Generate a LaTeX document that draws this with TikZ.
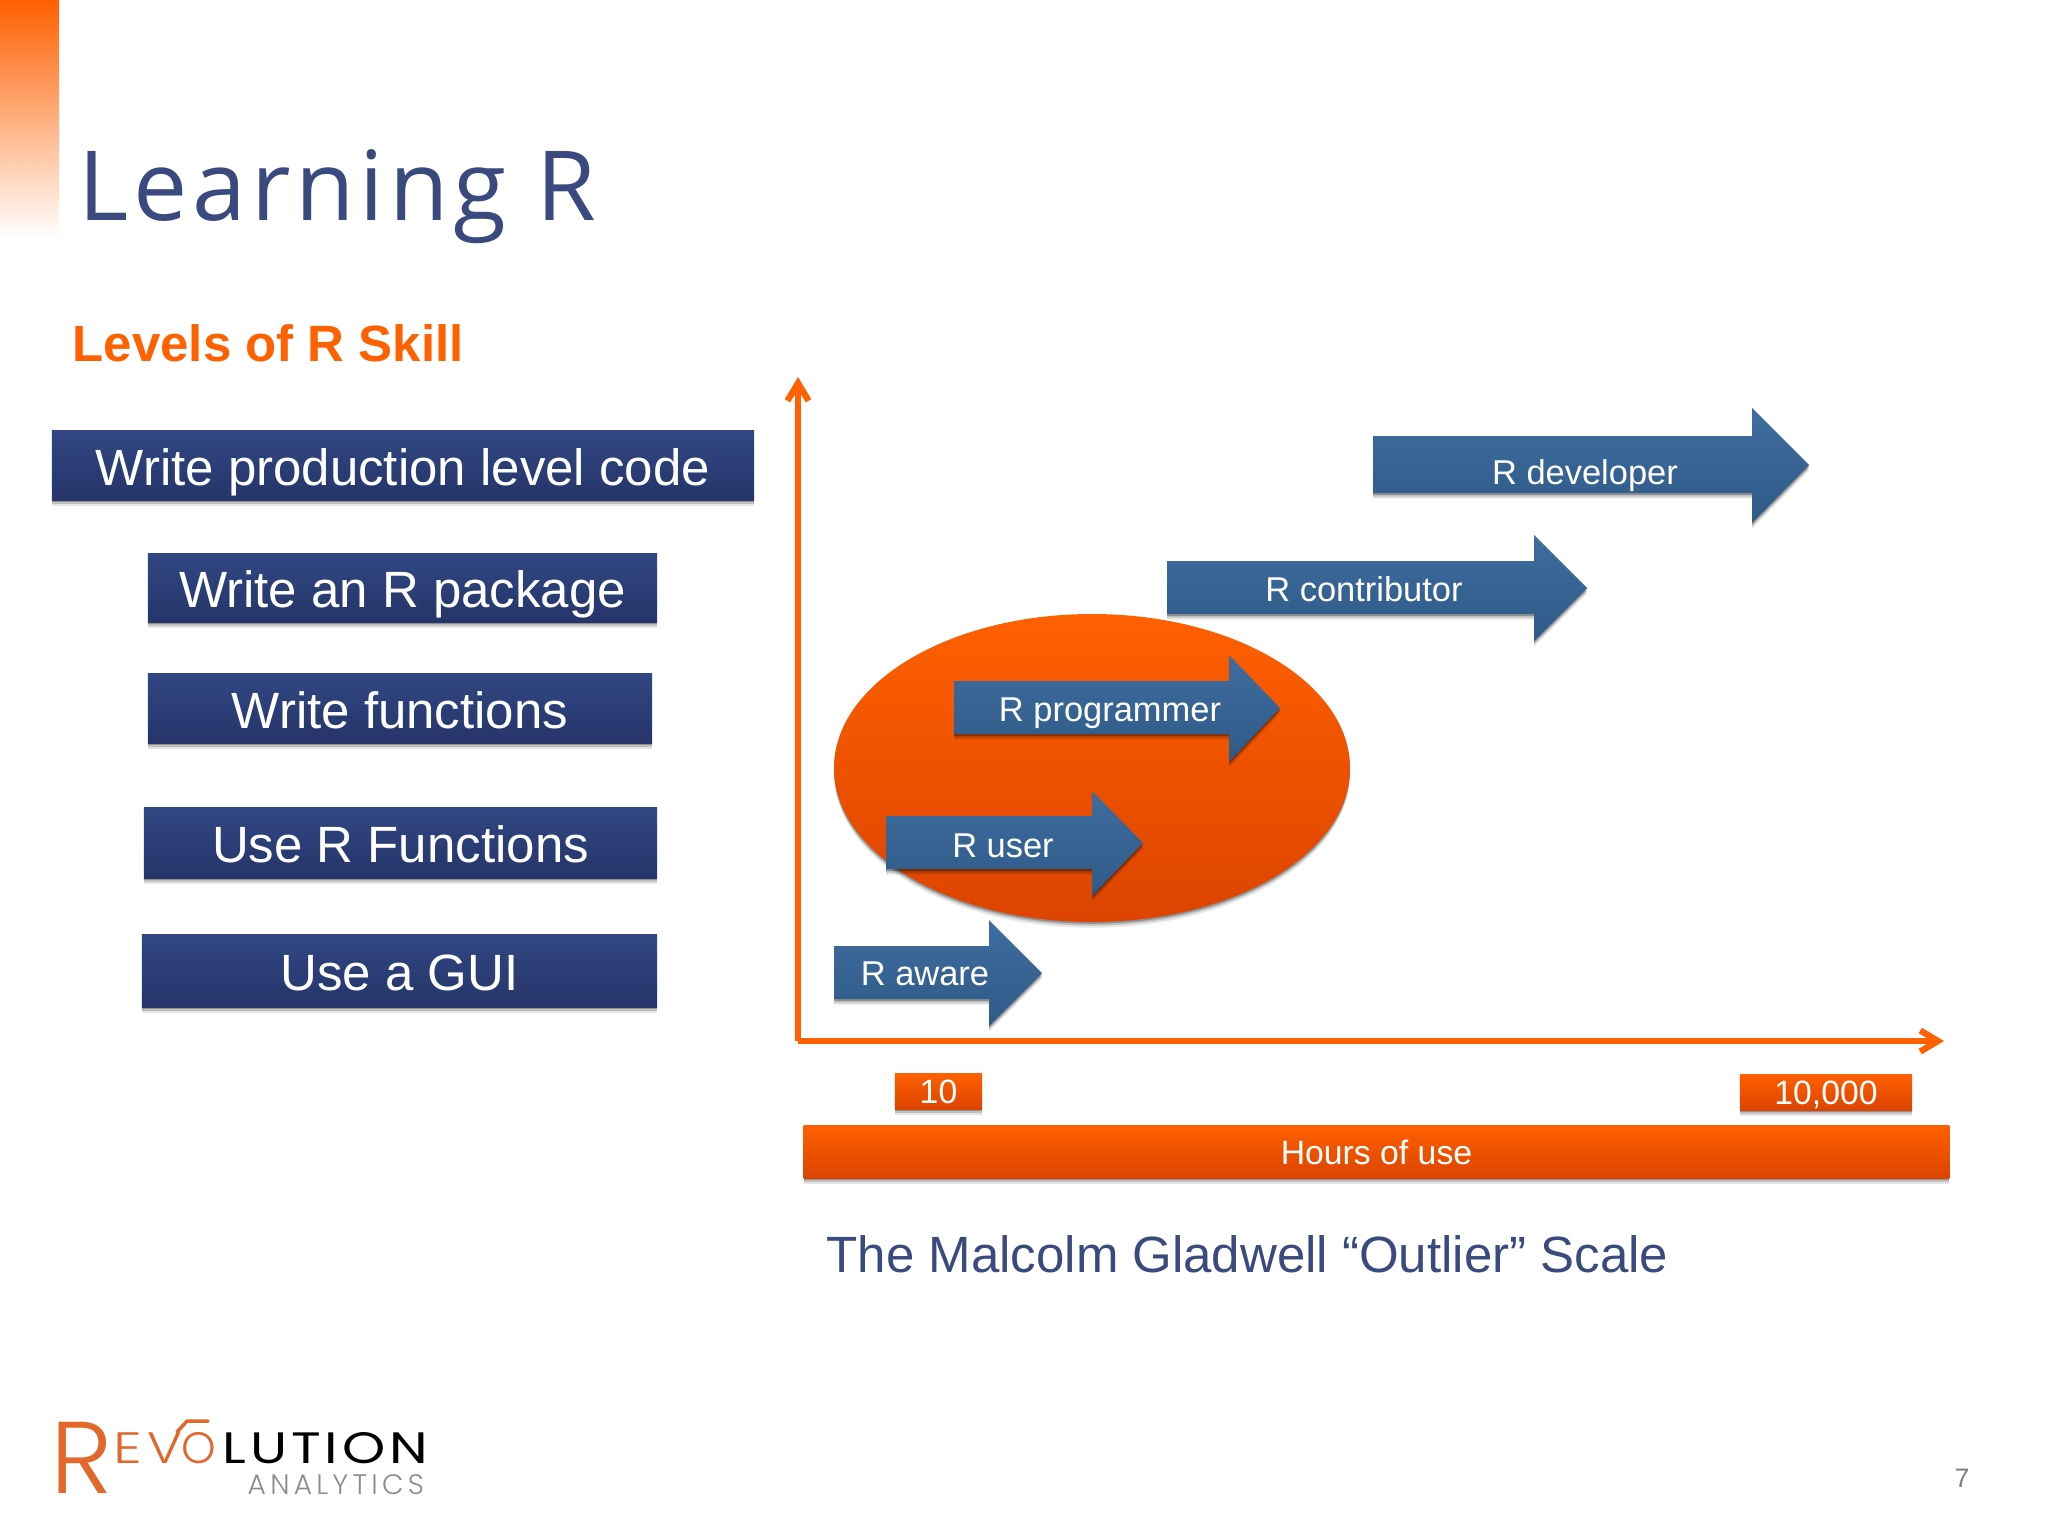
\documentclass[tikz,border=0pt]{standalone}
\usepackage{fontspec}
\usetikzlibrary{arrows.meta,shadows}
\setmainfont{Liberation Sans}
\newfontfamily\titlefont[LetterSpace=5]{Open Sans}
\newfontfamily\logofont{Poppins Light}
\newfontfamily\logolut[LetterSpace=7]{Poppins}
\newfontfamily\logoana[LetterSpace=15]{Poppins Light}

\definecolor{revorange}{HTML}{FF6000}
\definecolor{revorangemid}{HTML}{F55400}
\definecolor{revorangelow}{HTML}{DC4400}
\definecolor{titleblue}{HTML}{3A4A7E}
\definecolor{boxtop}{HTML}{314682}
\definecolor{boxlow}{HTML}{26356A}
\definecolor{armtop}{HTML}{3F6D9F}
\definecolor{armlow}{HTML}{2F5A88}
\definecolor{logoorange}{HTML}{E2672B}

\tikzset{
  softshadow/.style={
    drop shadow={shadow xshift=0pt, shadow yshift=-.5pt, opacity=.25, fill=black},
    drop shadow={shadow xshift=0pt, shadow yshift=-1pt, opacity=.16, fill=black},
    drop shadow={shadow xshift=0pt, shadow yshift=-1.6pt, opacity=.1, fill=black}},
  orangefill/.style={top color=revorange, middle color=revorangemid, bottom color=revorangelow},
  levelbox/.style={top color=boxtop, bottom color=boxlow, text=white, inner sep=0pt, softshadow,
    text height=11.1pt, text depth=0pt, font=\fontsize{14.5}{16}\selectfont},
  hourbox/.style={orangefill, text=white, inner sep=0pt, softshadow,
    text height=6.9pt, text depth=0pt, font=\fontsize{9.6}{11}\selectfont},
  skillarm/.style={top color=armtop, bottom color=armlow, softshadow},
  armlabel/.style={text=white, inner sep=0pt, text height=7pt, text depth=0pt, font=\fontsize{9.8}{11}\selectfont},
  axisline/.style={draw=revorange, line width=1.6pt, -{Straight Barb[length=5pt, width=6pt, line width=1.8pt]}},
  logoletter/.style={anchor=base west, inner sep=0pt, text=logoorange, transform shape, font=\fontsize{12.5}{14}\logofont},
}

\begin{document}
\begin{tikzpicture}[x=0.01cm, y=-0.01cm]
\useasboundingbox (0,0) rectangle (2048,1536);

% corner bar and headings
\shade[top color=revorange, bottom color=white] (0,0) rectangle (59,238);
\node[anchor=base west, inner sep=0pt, text=titleblue, font=\fontsize{27.5}{30}\titlefont] (title) at (78,220) {Learning R};
\node[anchor=base west, inner sep=0pt, text=revorange, font=\fontsize{14.5}{16}\selectfont\bfseries] (levels) at (72,361) {Levels of R Skill};

% skill levels
\node[levelbox, minimum width=7.02cm, minimum height=.69cm] (wprod) at (403,465.5) {Write production level code};
\node[levelbox, minimum width=5.09cm, minimum height=.68cm] (wpack) at (402.5,588) {Write an R package};
\node[levelbox, minimum width=5.04cm, minimum height=.69cm] (wfunc) at (400,708.5) {Write functions};
\node[levelbox, minimum width=5.13cm, minimum height=.70cm] (ufunc) at (400.5,843) {Use R Functions};
\node[levelbox, minimum width=5.15cm, minimum height=.72cm] (ugui) at (399.5,971) {Use a GUI};

% axes
\coordinate (origin) at (798,1041);
\coordinate (ytop) at (798,377);
\coordinate (xend) at (1944,1041);
\draw[axisline] (origin) -- (ytop);
\draw[axisline, softshadow] (origin) -- (xend);

% the blob behind the middle levels
\path[orangefill, softshadow] (1092,768) ellipse (258 and 154);

% skill arrows
\path[skillarm] (1373,436) -- (1752,436) -- (1752,408) -- (1809,465) -- (1752,523) -- (1752,493) -- (1373,493) -- cycle;
\node[armlabel] (rdev) at (1585,472) {R developer};
\path[skillarm] (1167,561) -- (1534,561) -- (1534,535) -- (1587,588) -- (1534,641) -- (1534,614) -- (1167,614) -- cycle;
\node[armlabel] (rcon) at (1364,589) {R contributor};
\path[skillarm] (954,681) -- (1229,681) -- (1229,655) -- (1280,708) -- (1229,762) -- (1229,734) -- (954,734) -- cycle;
\node[armlabel] (rprog) at (1110,709) {R programmer};
\path[skillarm] (886,816) -- (1092,816) -- (1092,791) -- (1143,843) -- (1092,896) -- (1092,869) -- (886,869) -- cycle;
\node[armlabel] (ruser) at (1003,845) {R user};
\path[skillarm] (834,946) -- (989,946) -- (989,920) -- (1042,973) -- (989,1026) -- (989,999) -- (834,999) -- cycle;
\node[armlabel] (raware) at (925,973) {R aware};

% hour scale
\node[hourbox, minimum width=.87cm, minimum height=.36cm] (ten) at (938.5,1091) {10};
\node[hourbox, minimum width=1.72cm, minimum height=.36cm] (tenk) at (1826,1092) {10,000};
\node[hourbox, minimum width=11.45cm, minimum height=.53cm, text height=7.5pt] (hours) at (1376.5,1151.5) {Hours of use};
\node[anchor=base west, inner sep=0pt, text=titleblue, font=\fontsize{14.5}{16}\selectfont] (scale) at (826,1272) {The Malcolm Gladwell “Outlier” Scale};

% logo and page number
\node[logoletter, xscale=1.04, font=\fontsize{29}{30}\logofont] (logor) at (50,1493) {R};
\node[logoletter, xscale=1.3] (logoe) at (113,1463) {E};
\node[logoletter, xscale=1.2] (logov) at (147,1463) {V};
\node[logoletter] (logoo) at (181,1463) {O};
\draw[logoorange, line width=1pt, line cap=round, line join=round] (177,1432) -- (187,1421) -- (208,1421);
\node[anchor=base west, inner sep=0pt, text=black, transform shape, xscale=1.25, font=\fontsize{12.5}{14}\logolut] (logolut) at (222,1463) {LUTION};
\node[anchor=base west, inner sep=0pt, text=black!45, font=\fontsize{8}{10}\logoana] (logoana) at (247,1494) {ANALYTICS};
\node[inner sep=0pt, text=black!50, font=\fontsize{7.6}{9}\selectfont] (pagenum) at (1962,1478) {7};

\end{tikzpicture}
\end{document}
